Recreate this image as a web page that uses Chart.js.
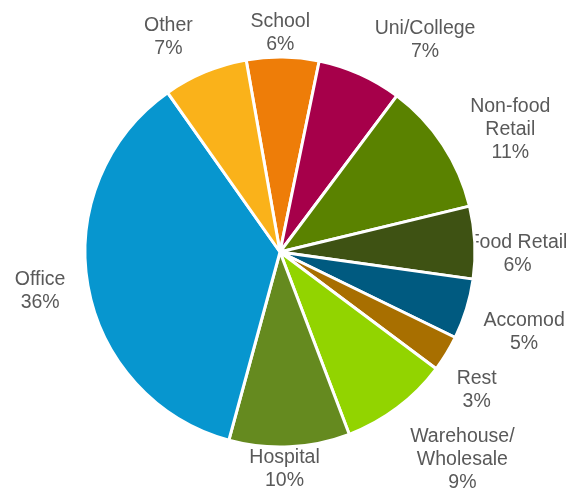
<!DOCTYPE html>
<html>
<head>
<meta charset="utf-8">
<script src="https://cdn.jsdelivr.net/npm/chart.js@4.4.0/dist/chart.umd.min.js"></script>
<style>
  html, body { margin: 0; padding: 0; background: #fff; }
  #wrap { width: 583px; height: 493px; position: relative; }
</style>
</head>
<body>
<div id="wrap"><canvas id="pie"></canvas></div>
<script>
(function () {
  'use strict';

  // Floor space share by building type (%), clockwise from the top
  var sectors = ['School', 'Uni/College', 'Non-food\nRetail', 'Food Retail', 'Accomod',
                 'Rest', 'Warehouse/\nWholesale', 'Hospital', 'Office', 'Other'];
  var shares = [6, 7, 11, 6, 5, 3, 9, 10, 36, 7];
  var colors = ['#ee7d08', '#a6004a', '#5a8200', '#3e5213', '#005a80',
                '#a86f00', '#92d400', '#658a1f', '#0796cf', '#fab21a'];

  // small hand offsets so the labels sit where a "best fit" layout would put them
  var labelNudge = [[-3, 5], [42, -8], [29, 7], [-13, 13], [13, 15],
                    [8, 21], [30, 20], [-7, -7], [-17, 0], [-25, -8]];

  // --- labels outside the pie, drawn under the slices ---
  var outsideLabels = {
    id: 'outsideLabels',
    beforeDatasetsDraw: function (chart, args, opts) {
      var ctx = chart.ctx;
      var meta = chart.getDatasetMeta(0);
      ctx.save();
      ctx.font = opts.font;
      ctx.fillStyle = opts.color;
      ctx.textAlign = 'center';
      ctx.textBaseline = 'middle';
      meta.data.forEach(function (arc, i) {
        var p = arc.getProps(['x', 'y', 'startAngle', 'endAngle', 'outerRadius'], true);
        var mid = (p.startAngle + p.endAngle) / 2;
        var lines = sectors[i].split('\n').concat([shares[i] + '%']);
        var w = 0;
        lines.forEach(function (t) { w = Math.max(w, ctx.measureText(t).width); });
        var h = lines.length * opts.lineHeight;
        var d = p.outerRadius + opts.gap;
        var cx = p.x + Math.cos(mid) * d + Math.cos(mid) * w / 2;
        var cy = p.y + Math.sin(mid) * d + Math.sin(mid) * h / 2;
        var n = opts.nudge[i] || [0, 0];
        cx += n[0];
        cy += n[1];
        lines.forEach(function (t, k) {
          ctx.fillText(t, cx, cy - h / 2 + opts.lineHeight * (k + 0.5));
        });
      });
      ctx.restore();
    }
  };

  new Chart(document.getElementById('pie'), {
    type: 'pie',
    data: {
      labels: sectors,
      datasets: [{
        data: shares,
        backgroundColor: colors,
        borderColor: '#ffffff',
        borderWidth: 3,
        radius: 195
      }]
    },
    options: {
      responsive: true,
      maintainAspectRatio: false,
      animation: false,
      rotation: -10,
      layout: { padding: { left: 0, right: 23, top: 11, bottom: 0 } },
      plugins: {
        legend: { display: false },
        tooltip: { enabled: false },
        outsideLabels: {
          font: '19.5px "Liberation Sans", Arial, sans-serif',
          color: '#595959',
          lineHeight: 23,
          gap: 6,
          nudge: labelNudge
        }
      }
    },
    plugins: [outsideLabels]
  });
})();
</script>
</body>
</html>
